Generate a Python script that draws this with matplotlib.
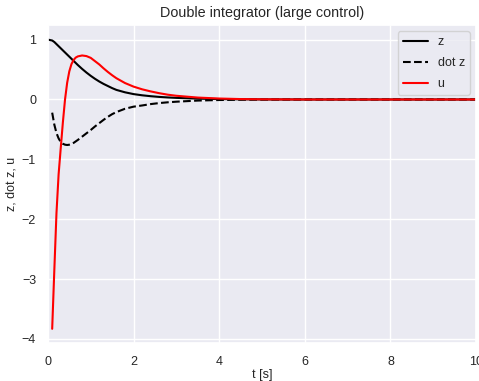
import matplotlib
matplotlib.use("Agg")
import matplotlib.pyplot as plt
import seaborn as sns

# time grid for dot z and u (they start one step after t = 0)
t_u = [0.1, 0.15, 0.2, 0.25, 0.3, 0.35, 0.4, 0.45, 0.5, 0.55, 0.6, 0.65, 0.7,
       0.8, 0.9, 1.0, 1.1, 1.2, 1.3, 1.4, 1.5, 1.6, 1.8, 2.0, 2.2, 2.4, 2.6,
       2.8, 3.0, 3.5, 4.0, 4.5, 5.0, 6.0, 8.0, 10.0]
# time grid for z
t_z = [0.0] + t_u

z = [1.0, 0.985, 0.96, 0.925, 0.89, 0.855, 0.82, 0.785, 0.75, 0.715, 0.68,
     0.645, 0.61, 0.575, 0.51, 0.45, 0.395, 0.345, 0.3, 0.26, 0.225, 0.19, 0.16,
     0.12, 0.09, 0.07, 0.055, 0.043, 0.034, 0.027, 0.014, 0.007, 0.003, 0.001,
     0.0, 0.0, 0.0]
dz = [-0.22, -0.42, -0.56, -0.65, -0.71, -0.74, -0.755, -0.76, -0.755, -0.745,
      -0.725, -0.70, -0.675, -0.62, -0.565, -0.51, -0.45, -0.395, -0.34, -0.29,
      -0.245, -0.21, -0.155, -0.12, -0.1, -0.077, -0.06, -0.047, -0.037, -0.018,
      -0.009, -0.004, -0.002, 0.0, 0.0, 0.0]
u = [-3.83, -2.85, -1.9, -1.25, -0.81, -0.38, 0.0, 0.28, 0.47, 0.59, 0.66, 0.70,
     0.72, 0.735, 0.725, 0.695, 0.64, 0.585, 0.52, 0.46, 0.405, 0.355, 0.275,
     0.215, 0.17, 0.135, 0.105, 0.08, 0.062, 0.032, 0.016, 0.007, 0.003, 0.0,
     0.0, 0.0]

sns.set_theme(style="darkgrid")
plt.rcParams['font.family'] = ['Liberation Sans', 'DejaVu Sans']

fig = plt.figure(figsize=(4.79, 3.81), dpi=100)
ax = fig.add_axes([0.100, 0.099, 0.894, 0.835])
ax.plot(t_z, z, color='black', lw=1.5, label='z')
ax.plot(t_u, dz, color='black', lw=1.5, ls='--', label='dot z')
ax.plot(t_u, u, color='red', lw=1.5, label='u')
ax.set_xlim(0, 10)
ax.set_title('Double integrator (large control)', fontsize=10.4, pad=6)
ax.set_xlabel('t [s]', fontsize=9, labelpad=1)
ax.set_ylabel('z, dot z, u', fontsize=9, labelpad=3)
ax.tick_params(labelsize=9)
ax.tick_params(axis='y', pad=2.5)
ax.tick_params(axis='x', pad=3)
ax.legend(loc='upper right', fontsize=9, labelspacing=0.7)
fig.savefig('out.png', dpi=100)
